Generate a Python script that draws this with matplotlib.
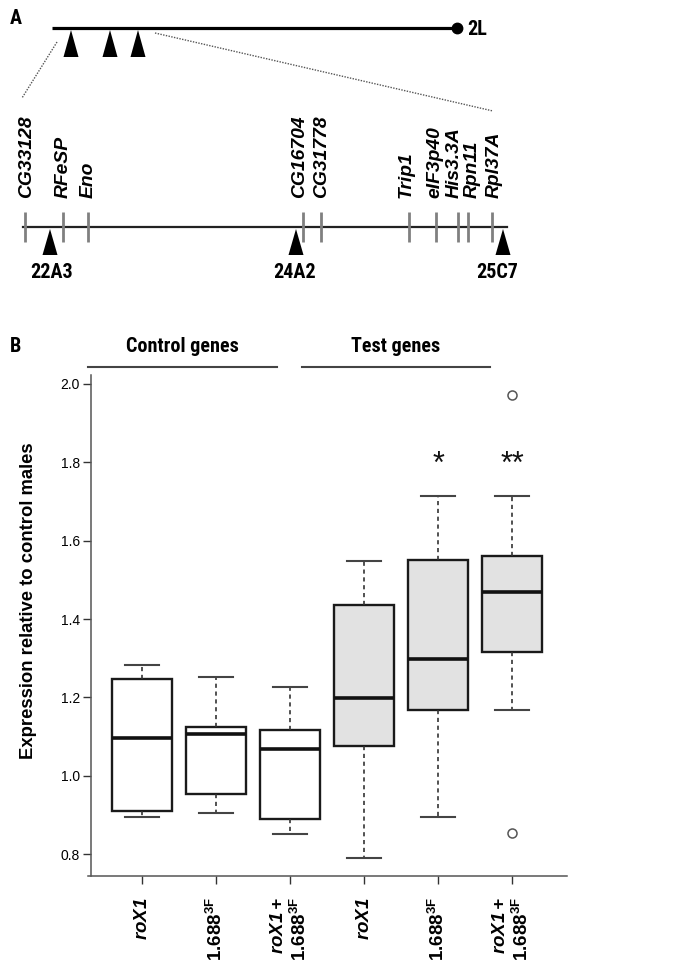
import matplotlib
matplotlib.use("Agg")
import matplotlib.pyplot as plt
from matplotlib import font_manager as fm
import os

# Find a narrow sans face (the reference's horizontal text is condensed)
def find_face(names):
    files = {os.path.basename(f.fname).lower(): f.fname for f in fm.fontManager.ttflist}
    for n in names:
        if n in files:
            return files[n]
    return None

narrow_reg = find_face(['liberationsansnarrow-regular.ttf', 'robotocondensed-regular.ttf',
                        'notosans-condensed.ttf', 'notosans-condensedregular.ttf'])
narrow_bold = find_face(['liberationsansnarrow-bold.ttf', 'robotocondensed-bold.ttf',
                         'notosans-condensedbold.ttf'])

def NP(size, bold=False):
    f = narrow_bold if bold else narrow_reg
    if f:
        return fm.FontProperties(fname=f, size=size)
    return fm.FontProperties(family='Liberation Sans', size=size * 0.84,
                             weight='bold' if bold else 'normal')

WIDE = 'Liberation Sans'
plt.rcParams['mathtext.fontset'] = 'custom'
plt.rcParams['mathtext.rm'] = 'Liberation Sans'
plt.rcParams['mathtext.bf'] = 'Liberation Sans:bold'
plt.rcParams['mathtext.it'] = 'Liberation Sans:italic'
plt.rcParams['mathtext.bfit'] = 'Liberation Sans:italic:bold'
plt.rcParams['font.family'] = [WIDE, 'DejaVu Sans']

# ---------------- Panel A data (map positions, figure pixel space) ----------
chrom_span = [52, 457]
chrom_arrows = [71, 110, 138]
region_span = [23, 507]
gene_names = ['CG33128', 'RFeSP', 'Eno', 'CG16704', 'CG31778',
              'Trip1', 'eIF3p40', 'His3.3A', 'Rpn11', 'Rpl37A']
gene_pos = [25, 63, 88, 303, 321, 409, 436, 458, 468, 492]
gene_label_pos = [27, 63, 88, 300, 322, 406, 435, 454, 472, 494]
band_names = ['22A3', '24A2', '25C7']
band_pos = [50, 296, 503]
band_label_pos = [52, 295, 497]

# ---------------- Panel B data ---------------------------------------------
group_names = ['Control genes', 'Test genes']
box_labels = [r'$\mathbfit{roX1}$', r'$\mathbf{1.688}^{\mathbf{3F}}$',
              '$\\mathbfit{roX1+}$\n$\\mathbf{1.688}^{\\mathbf{3F}}$'] * 2
medians = [1.098, 1.108, 1.069, 1.199, 1.297, 1.470]
q1 = [0.910, 0.954, 0.891, 1.076, 1.168, 1.315]
q3 = [1.246, 1.124, 1.116, 1.437, 1.550, 1.561]
whislo = [0.896, 0.906, 0.851, 0.791, 0.896, 1.167]
whishi = [1.284, 1.252, 1.228, 1.549, 1.714, 1.714]
fliers = [[], [], [], [], [], [1.971, 0.854]]
signif = ['', '', '', '', '*', '**']
signif_y = 1.82
y_ticks = [0.8, 1.0, 1.2, 1.4, 1.6, 1.8, 2.0]

W, H = 673, 969
fig = plt.figure(figsize=(W / 100, H / 100), dpi=100)

# ---------------- Panel A ----------------------------------------------------
a0 = fig.add_axes([0, 0, 1, 1])
a0.set_xlim(0, W)
a0.set_ylim(H, 0)
a0.axis('off')

def tri(ax, xc, apex, base, w):
    ax.fill([xc - w / 2, xc, xc + w / 2], [base, apex, base], color='black', lw=0)

a0.plot(chrom_span, [28, 28], color='black', lw=2.3, solid_capstyle='butt')
a0.plot([chrom_span[1]], [28], 'o', color='black', ms=7.5)
a0.text(chrom_span[1] + 10, 29, '2L', fontproperties=NP(14.5, True),
        ha='left', va='center')
for xc in chrom_arrows:
    tri(a0, xc, 30, 57, 15)
a0.plot([57, 22], [42, 98], color='#555555', lw=1, ls=(0, (1, 1)))
a0.plot([155, 493], [33, 111], color='#555555', lw=1, ls=(0, (1, 1)))

a0.plot(region_span, [227, 227], color='#222222', lw=1.6)
for gx in gene_pos:
    a0.plot([gx, gx], [212, 242], color='#808080', lw=2.0, solid_capstyle='butt')
for name, lx in zip(gene_names, gene_label_pos):
    a0.text(lx, 198, name, rotation=90, ha='center', va='bottom', fontsize=13.9,
            weight='bold', style='italic', family=WIDE)
for bx in band_pos:
    tri(a0, bx, 229, 255, 15)
for name, lx in zip(band_names, band_label_pos):
    a0.text(lx, 273, name, ha='center', va='center', fontproperties=NP(14.5, True))
a0.text(10, 18, 'A', fontproperties=NP(14.5, True), va='center')
a0.text(10, 347, 'B', fontproperties=NP(14.5, True), va='center')

# ---------------- Panel B ----------------------------------------------------
ax = fig.add_axes([88 / W, 1 - 876 / H, (567 - 88) / W, (876 - 375) / H])
ax.set_facecolor('none')
stats = []
for i in range(6):
    stats.append(dict(med=medians[i], q1=q1[i], q3=q3[i], whislo=whislo[i],
                      whishi=whishi[i], fliers=fliers[i]))
pos = list(range(1, 7))
bp = ax.bxp(stats, positions=pos, widths=0.81, capwidths=0.46, patch_artist=True,
            showfliers=True,
            boxprops=dict(edgecolor='#1a1a1a', linewidth=1.7),
            medianprops=dict(color='#111111', linewidth=2.6, solid_capstyle='butt'),
            whiskerprops=dict(color='#333333', linewidth=1.2, linestyle=(0, (2.5, 2.2))),
            capprops=dict(color='#444444', linewidth=1.5),
            flierprops=dict(marker='o', markerfacecolor='white',
                            markeredgecolor='#555555', markersize=6.5,
                            markeredgewidth=1.1))
fills = ['white'] * 3 + ['#e2e2e2'] * 3
for patch, fc in zip(bp['boxes'], fills):
    patch.set_facecolor(fc)

for x, s in zip(pos, signif):
    if s:
        ax.annotate(s, (x, signif_y), xytext=(0, -8), textcoords='offset points',
                    ha='center', va='center', fontsize=22, family=WIDE, color='#111111')

ax.set_xlim(0.27, 6.74)
ax.set_ylim(0.745, 2.022)
ax.set_yticks(y_ticks)
ax.set_yticklabels([f'{v:.1f}' for v in y_ticks], fontproperties=NP(15.5))
ax.set_xticks(pos)
ax.set_xticklabels(box_labels, rotation=90, fontsize=13.5, va='top', ha='center')
for lab in ax.get_xticklabels():
    lab.set_multialignment('right')
ax.tick_params(axis='both', length=6, width=1, color='#333333')
ax.tick_params(axis='x', pad=9)
ax.tick_params(axis='y', pad=2)
for sp in ['top', 'right']:
    ax.spines[sp].set_visible(False)
for sp in ['left', 'bottom']:
    ax.spines[sp].set_color('#555555')
    ax.spines[sp].set_linewidth(1.1)
ax.spines['left'].set_position(('data', 0.31))

group_spans = [(0.27, 2.82), (3.16, 5.70)]
for name, (x0, x1) in zip(group_names, group_spans):
    ax.plot([x0, x1], [2.043, 2.043], color='#444444', lw=1.5, clip_on=False)
    ax.text((x0 + x1) / 2, 2.094, name, ha='center', va='center',
            fontproperties=NP(14.5, True))

fig.text(29 / W, 1 - 601 / H, 'Expression relative to control males', rotation=90,
         ha='center', va='center', fontsize=13.3, weight='bold', family=WIDE)

fig.savefig('out.png', dpi=100)
